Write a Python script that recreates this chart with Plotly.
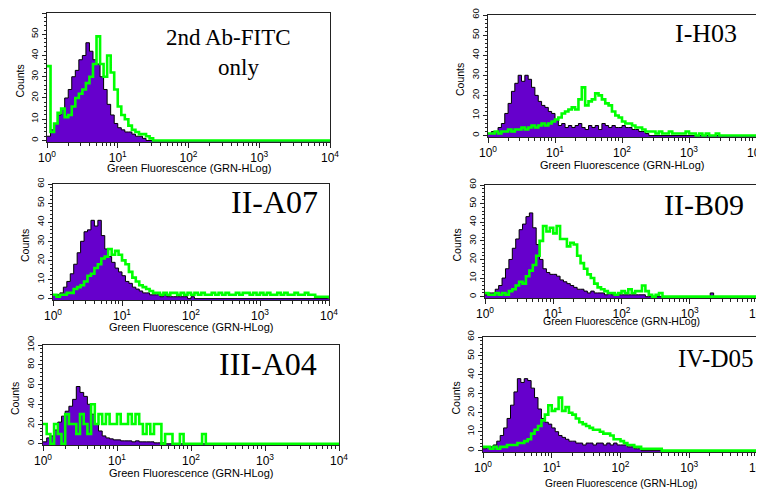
import numpy as np
import plotly.graph_objects as go

# ---------------- data (counts per 0.05-decade channel group, starting at 10^0) ----------------
BIN_DECADES = 0.05

panel_labels = ["2nd Ab-FITC|only", "I-H03", "II-A07", "II-B09", "III-A04", "IV-D05"]
count_max = [60, 60, 60, 60, 100, 60]
x_title = "Green Fluorescence (GRN-HLog)"
y_title = "Counts"
decade_ticks = [1, 10, 100, 1000, 10000]
decade_text = ["10<sup>0</sup>", "10<sup>1</sup>", "10<sup>2</sup>", "10<sup>3</sup>", "10<sup>4</sup>"]

# purple = negative control, green = antibody stained
p1_control = [2, 5, 8, 12, 15, 20, 24, 30, 33, 38, 40, 46, 42, 38, 36, 30, 24, 17, 12, 8,
              6, 5, 4, 4, 3, 2, 2, 1]
p1_sample = [35, 4, 8, 13, 15, 11, 12, 16, 20, 22, 24, 27, 30, 36, 49, 36, 30, 40, 32, 24,
             16, 12, 10, 7, 5, 4, 3, 3, 2, 1]

p2_control = [1, 2, 2, 4, 6, 11, 16, 22, 26, 30, 27, 30, 28, 24, 20, 17, 15, 14, 12, 11,
              8, 5, 6, 4, 5, 4, 5, 6, 4, 3, 5, 4, 5, 3, 6, 5, 4, 5, 4, 4,
              5, 4, 4, 3, 3, 2, 2, 1]
p2_sample = [1, 1, 2, 1, 2, 2, 3, 2, 3, 3, 4, 3, 4, 5, 4, 5, 6, 5, 6, 7,
             8, 9, 11, 12, 13, 14, 13, 18, 24, 15, 17, 18, 21, 20, 18, 16, 15, 12, 10, 9,
             7, 6, 6, 5, 4, 4, 3, 2, 2, 2, 1, 2, 1, 1, 2, 1, 1, 1, 1, 2,
             1, 1, 0, 1, 0, 1, 0, 0, 1, 0, 0]

p3_control = [2, 2, 3, 6, 9, 13, 18, 24, 30, 35, 36, 41, 38, 41, 33, 26, 22, 19, 16, 14,
              12, 9, 8, 6, 5, 4, 3, 3, 2, 2, 2, 1, 2, 1, 1, 1, 1, 1, 1, 0,
              1]
p3_sample = [2, 1, 2, 2, 3, 3, 5, 6, 7, 9, 12, 13, 16, 18, 21, 22, 26, 23, 25, 23,
             20, 18, 14, 11, 9, 7, 6, 5, 4, 3, 3, 2, 3, 2, 3, 3, 2, 3, 2, 3,
             2, 3, 2, 3, 2, 2, 3, 2, 3, 2, 3, 2, 2, 3, 2, 3, 3, 2, 3, 2,
             3, 2, 3, 2, 2, 3, 2, 3, 2, 2, 3, 2, 2, 3, 2, 2, 1, 1, 1, 1]

p4_control = [1, 2, 2, 4, 6, 10, 15, 20, 26, 31, 36, 39, 43, 45, 37, 28, 20, 15, 13, 12,
              12, 11, 9, 8, 7, 6, 5, 4, 4, 3, 2, 3, 2, 2, 2, 1, 2, 1, 1, 1,
              1, 1, 1, 1, 1, 1, 1, 0, 0, 0, 0, 0, 0, 0, 0, 0, 0, 0, 0, 0,
              0, 0, 0, 0, 0, 0, 2]
p4_sample = [2, 1, 1, 2, 1, 2, 1, 3, 4, 6, 8, 7, 11, 14, 17, 22, 30, 38, 35, 37,
             34, 38, 31, 31, 27, 29, 28, 22, 18, 15, 12, 10, 7, 5, 4, 3, 2, 2, 1, 2,
             3, 2, 4, 2, 3, 3, 6, 3, 1, 0, 1, 2]

p5_control = [2, 6, 8, 14, 22, 28, 33, 38, 45, 58, 52, 48, 40, 30, 20, 13, 8, 6, 5, 4,
              4, 3, 3, 3, 2, 3, 2, 2, 2, 2, 1, 1, 1]
p5_sample = [20, 10, 0, 20, 10, 0, 30, 20, 20, 10, 30, 20, 10, 40, 20, 30, 20, 30, 20, 20,
             30, 20, 20, 30, 20, 30, 20, 10, 20, 10, 20, 20, 0, 10, 10, 0, 0, 10, 0, 0,
             0, 0, 0, 10]

p6_control = [1, 2, 2, 3, 5, 8, 12, 17, 24, 31, 38, 36, 38, 37, 33, 28, 22, 17, 15, 14,
              12, 10, 8, 7, 6, 5, 5, 4, 4, 3, 4, 4, 3, 4, 4, 3, 4, 3, 4, 3,
              3, 3, 2, 2, 1, 1]
p6_sample = [2, 2, 1, 2, 1, 2, 2, 3, 3, 3, 4, 4, 5, 6, 9, 11, 13, 16, 19, 24,
             21, 22, 28, 21, 23, 20, 19, 17, 15, 14, 13, 12, 11, 11, 10, 9, 9, 8, 6, 6,
             5, 4, 3, 3, 2, 2, 1, 1, 1, 1, 1, 1]

controls = [p1_control, p2_control, p3_control, p4_control, p5_control, p6_control]
samples = [p1_sample, p2_sample, p3_sample, p4_sample, p5_sample, p6_sample]

# ---------------- layout geometry (pixels of the final picture) ----------------
W, H = 764, 491
PAGE_OFFSET = 8  # the html page body margin shifts the figure by this much
# left, right, top, bottom of each plot frame
frames = [
    (47, 330, 13, 142),
    (488, 756, 15, 137),
    (53, 329, 184, 300),
    (485, 758, 185, 298),
    (43, 339, 345, 445),
    (483, 758, 337, 452),
]


def fx(x):
    return (x - PAGE_OFFSET) / W


def fy(y):
    return 1 - (y - PAGE_OFFSET) / H


PURPLE = "#6600CC"
GREEN = "#00FF00"
SANS = "Arial, Liberation Sans, sans-serif"
SERIF = "Times New Roman, Liberation Serif, serif"


def step_xy(vals):
    edges = [10 ** (k * BIN_DECADES) for k in range(len(vals) + 1)]
    xs = edges[:-1] + [edges[-1], 10000]
    ys = list(vals) + [0, 0]
    return xs, ys


fig = go.Figure()
minor_x = [m * 10 ** d for d in range(4) for m in range(2, 10)]

for i in range(6):
    ax = "" if i == 0 else str(i + 1)
    xa, ya = "x" + ax, "y" + ax
    ymax = count_max[i]
    floor = -ymax * 0.012
    # invisible floor so the fill reaches the axis line
    fig.add_trace(go.Scatter(x=[1, 10000], y=[floor - 1, floor - 1], mode="lines",
                             line=dict(width=0, color="rgba(0,0,0,0)"),
                             xaxis=xa, yaxis=ya, hoverinfo="skip", showlegend=False))
    cx, cy = step_xy(controls[i])
    fig.add_trace(go.Scatter(x=cx, y=cy, mode="lines", line_shape="hv",
                             line=dict(color="black", width=1),
                             fill="tonexty", fillcolor=PURPLE,
                             xaxis=xa, yaxis=ya, showlegend=False))
    sx, sy = step_xy(samples[i])
    fig.add_trace(go.Scatter(x=sx, y=sy, mode="lines", line_shape="hv",
                             line=dict(color=GREEN, width=2.6),
                             xaxis=xa, yaxis=ya, showlegend=False))

    l, r, t, b = frames[i]
    fig.layout["xaxis" + ax] = dict(
        domain=[fx(l), fx(r)], anchor=ya, type="log", range=[0, 4], automargin=False,
        showline=True, linecolor="#222", linewidth=1, mirror=True,
        showgrid=False, zeroline=False,
        ticks="outside", ticklen=5, tickcolor="#222",
        tickvals=decade_ticks, ticktext=decade_text,
        tickfont=dict(family=SANS, size=12, color="black"),
        minor=dict(tickvals=minor_x, ticks="outside", ticklen=3, tickcolor="#222"),
    )
    fig.layout["yaxis" + ax] = dict(
        domain=[fy(b), fy(t)], anchor=xa, range=[floor, ymax], automargin=False,
        showline=True, linecolor="#222", linewidth=1, mirror=True,
        showgrid=False, zeroline=False,
        ticks="outside", ticklen=4, tickcolor="#222",
        tick0=0, dtick=20 if ymax == 100 else 10, tickangle=-90,
        tickfont=dict(family=SANS, size=9.5, color="black"),
        minor=dict(dtick=4 if ymax == 100 else 2, ticks="outside", ticklen=2.5, tickcolor="#222"),
    )

annotations = []
# y-axis titles
for i, (l, r, t, b) in enumerate(frames):
    annotations.append(dict(x=fx(l - 28), y=fy((t + b) / 2 + 4), xref="paper", yref="paper",
                            text=y_title, textangle=-90, showarrow=False,
                            font=dict(family=SANS, size=10.5, color="black"),
                            xanchor="center", yanchor="middle"))
# x-axis titles (center y in pixels)
xt_y = [168, 165, 327, 321, 473, 483]
xt_size = [11, 11, 11, 10.5, 11, 10.2]
for i, (l, r, t, b) in enumerate(frames):
    annotations.append(dict(x=fx((l + r) / 2), y=fy(xt_y[i]), xref="paper", yref="paper",
                            text=x_title, showarrow=False,
                            font=dict(family=SANS, size=xt_size[i], color="black"),
                            xanchor="center", yanchor="middle"))

# panel labels: (text, center x, center y, size)
label_pos = [
    ("2nd Ab-FITC", 228, 38, 23),
    ("only", 238, 67, 23),
    ("I-H03", 706, 33, 26),
    ("II-A07", 274, 202, 32),
    ("II-B09", 704, 204, 30),
    ("III-A04", 268, 364, 32),
    ("IV-D05", 715, 358, 25),
]
for txt, x, y, s in label_pos:
    annotations.append(dict(x=fx(x), y=fy(y), xref="paper", yref="paper", text=txt,
                            showarrow=False, font=dict(family=SERIF, size=s, color="black"),
                            xanchor="center", yanchor="middle"))

# white strips reproducing the cropped montage edges
shapes = [
    dict(type="rect", xref="paper", yref="paper", x0=0, x1=fx(382), y0=fy(178), y1=fy(167),
         fillcolor="white", line=dict(width=0), layer="above"),
    dict(type="rect", xref="paper", yref="paper", x0=fx(382), x1=1, y0=fy(178), y1=fy(169),
         fillcolor="white", line=dict(width=0), layer="above"),
    dict(type="rect", xref="paper", yref="paper", x0=0, x1=fx(382), y0=fy(336), y1=fy(330),
         fillcolor="white", line=dict(width=0), layer="above"),
]

fig.update_layout(
    width=W, height=H, margin=dict(l=0, r=0, t=0, b=0),
    paper_bgcolor="white", plot_bgcolor="white",
    showlegend=False, annotations=annotations, shapes=shapes,
)

fig.write_html("out.html")
